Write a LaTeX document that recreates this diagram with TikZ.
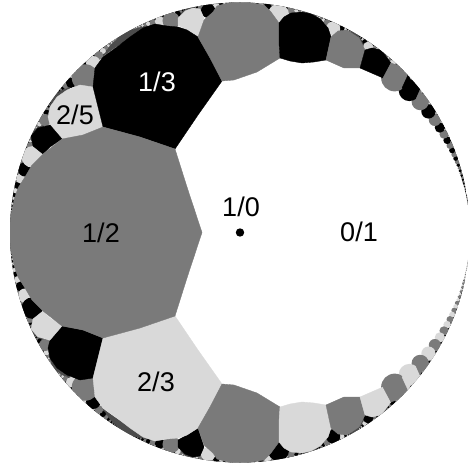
\documentclass[tikz,border=0pt]{standalone}
\usepackage{fontspec}
\setmainfont{Liberation Sans}
\definecolor{cellgray}{gray}{0.48}
\definecolor{celllight}{gray}{0.85}
\tikzset{
  farey/.style={fill=#1,draw=#1,line width=0.35pt,line join=round},
  numlabel/.style={font=\fontsize{27}{29}\selectfont,inner sep=0pt,text=black},
}
% a cell of the upper half and its mirror image p/q -> (q-p)/q
\newcommand{\twincell}[3]{%
  \path[farey=#1] #3 -- cycle;
  \begin{scope}[shift={(0,465)},yscale=-1]
    \path[farey=#2] #3 -- cycle;
  \end{scope}}
\begin{document}
\begin{tikzpicture}[x=1pt,y=-1pt]
\useasboundingbox (0,0) rectangle (468,470);
\begin{scope}
\clip (240,232.5) circle[radius=230pt];
% the finest cells blur into a band at the rim
\draw[gray!60!black,line width=2.4pt] plot[domain=12:348,samples=150] ({240+229.5*cos(\x)},{232.5-229.5*sin(\x)});
\draw[gray!60!black,line width=8pt] plot[domain=45:315,samples=120] ({240+227*cos(\x)},{232.5-227*sin(\x)});
% small cells: Ford circles wrapped round the disc
\foreach \q in {52,51,...,8}{%
  \pgfmathtruncatemacro{\qm}{\q-1}%
  \foreach \p in {1,...,\qm}{%
    \pgfmathtruncatemacro{\g}{gcd(\p,\q)}%
    \ifnum\g=1
      \pgfmathsetmacro{\rr}{722/(\q*\q)}%
      \pgfmathsetmacro{\ang}{360/\q*\p}%
      \pgfmathsetmacro{\cx}{240+(230-\rr)*cos(\ang)}%
      \pgfmathsetmacro{\cy}{232.5-(230-\rr)*sin(\ang)}%
      \pgfmathtruncatemacro{\qodd}{mod(\q,2)}%
      \pgfmathtruncatemacro{\podd}{mod(\p,2)}%
      \ifnum\qodd=0
        \def\cc{cellgray}%
      \else
        \ifnum\podd=1 \def\cc{black}\else \def\cc{celllight}\fi
      \fi
      \fill[\cc] (\cx,\cy) circle[radius=1.2*\rr pt];
    \fi
  }%
}
% cells of small denominator
\twincell{celllight}{black}{(103,127) -- (98,107) -- (93,87) -- (80,85) -- (67,90) -- (57,97) -- (50,107) -- (48,117) -- (50,125) -- (62,139) -- (83,135)}
\twincell{black}{celllight}{(50,125) -- (62,139) -- (50,147) -- (43,154) -- (33,146) -- (31,136) -- (38,128)}
\twincell{celllight}{black}{(198,37) -- (187,30) -- (178,25) -- (178,18) -- (185,11) -- (193,8) -- (200,9) -- (204,18)}
\twincell{black}{celllight}{(175,149) -- (198,115) -- (222,81) -- (211,58) -- (198,37) -- (187,30) -- (178,27) -- (167,26) -- (155,24) -- (143,28) -- (130,37) -- (117,47) -- (103,57) -- (95,68) -- (93,87) -- (98,107) -- (103,127) -- (140,137)}
\twincell{cellgray}{cellgray}{(222,81) -- (210,58) -- (198,37) -- (204,20) -- (213,12) -- (217,6) -- (228,3) -- (240,2) -- (252,3) -- (264,5) -- (271,12) -- (279,23) -- (279,43) -- (280,58) -- (257,72) -- (234,80)}
\twincell{black}{celllight}{(279,23) -- (284,17) -- (291,13) -- (302,12) -- (311,14) -- (320,19) -- (328,28) -- (331,37) -- (326,60) -- (314,62) -- (302,63) -- (290,61) -- (280,58) -- (279,43)}
\twincell{cellgray}{cellgray}{(331,37) -- (326,60) -- (344,68) -- (360,68) -- (365,50) -- (359,38) -- (347,30) -- (338,31)}
\twincell{black}{celllight}{(365,50) -- (360,68) -- (383,78) -- (391,63) -- (381,50) -- (372,48)}
\twincell{cellgray}{cellgray}{(391,63) -- (383,78) -- (402,88) -- (408,75) -- (399,66)}
\twincell{black}{celllight}{(408,75) -- (402,88) -- (416,99) -- (420,90) -- (412,82)}
\twincell{cellgray}{cellgray}{(420,90) -- (416,99) -- (425,108) -- (429,100) -- (422,94)}
% the cell 1/2
\path[farey=cellgray] (175,149) -- (187,187) -- (202,232.5) -- (187,278) -- (175,316) -- (140,328) -- (103,338) -- (83,330) -- (62,326) -- (43,311) -- (32,300) -- (25,288) -- (18,277) -- (14,265) -- (11,250) -- (9,232.5) -- (11,215) -- (14,200) -- (18,188) -- (25,177) -- (32,165) -- (43,154) -- (62,139) -- (83,135) -- (103,127) -- (140,137) -- cycle;
\end{scope}
% labels
\node[numlabel,text=white] (n13) at (157,82) {1/3};
\node[numlabel] (n25) at (75,115) {2/5};
\node[numlabel] (n12) at (101,233) {1/2};
\node[numlabel] (n10) at (241,207) {1/0};
\node[numlabel] (n01) at (359,232) {0/1};
\node[numlabel] (n23) at (156,382) {2/3};
\fill[black] (240,232.5) circle[radius=4.2pt];
\end{tikzpicture}
\end{document}
